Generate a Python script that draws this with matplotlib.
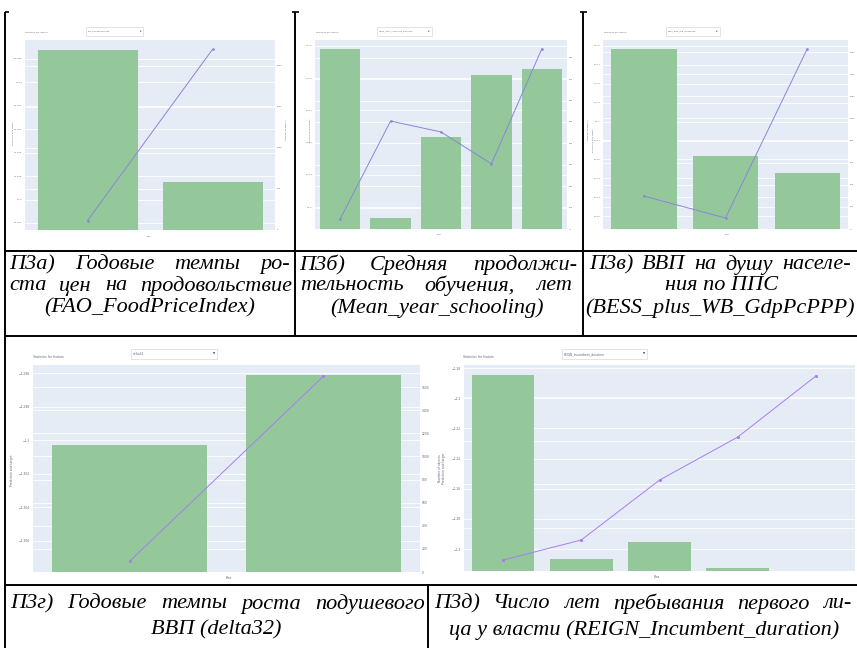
import numpy as np
import matplotlib.pyplot as plt
from matplotlib.lines import Line2D
from matplotlib.patches import Rectangle

W, H = 857, 648

# --- data ---
feat_a = "FAO_FoodPriceIndex"
count_a = [2195, 585]
pred_a = [-1.3018, -1.2872]
lticks_a = [-1.288, -1.29, -1.292, -1.294, -1.296, -1.298, -1.3, -1.302]
rticks_a = [0, 500, 1000, 1500, 2000]

feat_b = "Mean_year_schooling_Barrolee"
count_b = [841, 51, 430, 720, 748]
pred_b = [-1.3037, -1.2733, -1.2767, -1.2866, -1.2509]
lticks_b = [-1.25, -1.26, -1.27, -1.28, -1.29, -1.3]
rticks_b = [0, 100, 200, 300, 400, 500, 600, 700, 800]

feat_c = "BESS_plus_WB_GdpPcPPP"
count_c = [1629, 661, 507]
pred_c = [-1.2394, -1.2510, -1.1616]
lticks_c = [-1.16, -1.17, -1.18, -1.19, -1.2, -1.21, -1.22, -1.23, -1.24, -1.25]
rticks_c = [0, 200, 400, 600, 800, 1000, 1200, 1400, 1600]

feat_d = "delta32"
count_d = [1100, 1706]
pred_d = [-1.3072, -1.2962]
lticks_d = [-1.296, -1.298, -1.3, -1.302, -1.304, -1.306]
rticks_d = [0, 200, 400, 600, 800, 1000, 1200, 1400, 1600]

feat_e = "REIGN_Incumbent_duration"
count_e = [2253, 138, 333, 34, 5]
pred_e = [-1.3073, -1.2940, -1.2543, -1.2258, -1.1853]
lticks_e = [-1.18, -1.2, -1.22, -1.24, -1.26, -1.28, -1.3]
rticks_e = [0, 500, 1000, 1500, 2000]

cap_a = ["П3а) Годовые темпы ро-", "ста цен на продовольствие", "(FAO_FoodPriceIndex)"]
cap_b = ["П3б) Средняя продолжи-", "тельность обучения, лет", "(Mean_year_schooling)"]
cap_c = ["П3в) ВВП на душу населе-", "ния по ППС", "(BESS_plus_WB_GdpPcPPP)"]
cap_d = ["П3г) Годовые темпы роста подушевого", "ВВП (delta32)"]
cap_e = ["П3д) Число лет пребывания первого ли-", "ца у власти (REIGN_Incumbent_duration)"]

LAV = '#E5ECF6'
BAR = '#94C89B'
TXT = '#5d6679'

fig = plt.figure(figsize=(W / 100, H / 100), dpi=100)


def fx(x):
    return x / W


def fy(y):
    return 1 - y / H


def rect(x0, y0, x1, y1):
    return [x0 / W, 1 - y1 / H, (x1 - x0) / W, (y1 - y0) / H]


def T(x, y, s, **kw):
    return fig.text(fx(x), fy(y), s, **kw)


def fmt(v):
    return f"{round(v, 4):g}".replace('-', '\u2212')


def panel(box, ylim_l, ylim_r, counts, preds, lticks, rticks, fs, lc, ms, right_labels=True):
    x = np.arange(len(counts))
    ax = fig.add_axes(rect(*box))
    ax.set_facecolor(LAV)
    ax.set_xlim(-0.5, len(counts) - 0.5)
    ax.set_ylim(*ylim_l)
    ax.set_yticks(lticks, [fmt(v) for v in lticks])
    ax.set_xticks([])
    ax.grid(axis='y', color='white', lw=0.6)
    ax.tick_params(axis='y', length=0, pad=2, labelsize=fs, labelcolor=TXT)
    for s in ax.spines.values():
        s.set_visible(False)

    axb = fig.add_axes(rect(*box), sharex=ax)
    axb.patch.set_alpha(0)
    axb.bar(x, counts, width=0.8, color=BAR)
    axb.set_ylim(*ylim_r)
    axb.yaxis.tick_right()
    axb.set_yticks(rticks, [str(v) for v in rticks])
    axb.grid(axis='y', color='white', lw=0.6)
    axb.set_axisbelow(True)
    axb.tick_params(axis='y', length=0, pad=1.5, labelsize=fs, labelcolor=TXT,
                    labelright=right_labels)
    axb.tick_params(axis='x', length=0, labelbottom=False)
    for s in axb.spines.values():
        s.set_visible(False)

    axl = fig.add_axes(rect(*box), sharex=ax, sharey=ax)
    axl.axis('off')
    axl.plot(x, preds, color=lc, lw=0.7, marker='s', ms=ms)


def header(lx, y, bx0, bx1, by0, by1, feat, fs):
    T(lx, y, "Statistics for feature", fontsize=fs, color=TXT, va='center')
    fig.add_artist(Rectangle((fx(bx0), fy(by1)), (bx1 - bx0) / W, (by1 - by0) / H,
                             transform=fig.transFigure, facecolor='white',
                             edgecolor='#d4d8e0', lw=0.5))
    T(bx0 + 2, (by0 + by1) / 2, feat, fontsize=fs, color=TXT, va='center')
    T(bx1 - 2, (by0 + by1) / 2, '\u25bc', fontsize=fs * 0.9, color='#444', va='center', ha='right')


# top row panels
panel((25, 40, 275, 230), (-1.3026, -1.2864), (0, 2317), count_a, pred_a,
      lticks_a, rticks_a, 1.6, '#8a86d6', 0.8)
header(25, 32, 86, 143, 27, 36, feat_a, 1.6)
panel((315, 40, 567, 229), (-1.30683, -1.24814), (0, 883), count_b, pred_b,
      lticks_b, rticks_b, 1.6, '#8a86d6', 0.8)
header(316, 32, 377, 432, 27, 36, feat_b, 1.6)
panel((603, 40, 848, 229), (-1.25683, -1.15683), (0, 1710), count_c, pred_c,
      lticks_c, rticks_c, 1.6, '#8a86d6', 0.8)
header(604, 32, 666, 720, 27, 36, feat_c, 1.6)

# bottom row panels
panel((33, 365, 420, 572), (-1.30785, -1.29552), (0, 1792), count_d, pred_d,
      lticks_d, rticks_d, 2.2, '#a67ef4', 1.1)
header(33, 357, 131, 217, 349, 359, feat_d, 2.2)
panel((464, 365, 855, 571), (-1.31457, -1.17801), (0, 2368), count_e, pred_e,
      lticks_e, rticks_e, 2.2, '#a67ef4', 1.1, right_labels=False)
header(463, 357, 562, 647, 349, 359, feat_e, 2.2)

# axis titles
for x, y, fs in [(13, 133, 1.6), (310, 130, 1.6), (593, 140, 1.6), (12, 470, 2.2), (444, 468, 2.2)]:
    T(x, y, "Prediction and target", fontsize=fs, color=TXT, rotation=90, ha='center', va='center')
for x, y, fs in [(286, 130, 1.6), (588, 130, 1.6), (440, 468, 2.2)]:
    T(x, y, "Number of objects", fontsize=fs, color=TXT, rotation=90, ha='center', va='center')
for x, y, fs in [(149, 236, 1.6), (439, 235, 1.6), (727, 235, 1.6), (229, 578, 2.2), (657, 577, 2.2)]:
    T(x, y, "Bins", fontsize=fs, color=TXT, ha='center', va='center')


# table borders
def seg(x0, y0, x1, y1, lw=1.4):
    fig.add_artist(Line2D([fx(x0), fx(x1)], [fy(y0), fy(y1)], transform=fig.transFigure,
                          color='black', lw=lw, solid_capstyle='butt'))


seg(5, 12, 5, 648)
seg(295, 12, 295, 336)
seg(583, 12, 583, 336)
seg(5, 251, 857, 251)
seg(5, 336, 857, 336)
seg(5, 585, 857, 585)
seg(428, 585, 428, 648)
for xc in (5, 295, 583):
    seg(xc - 3 if xc > 5 else xc, 12, xc + 4, 12, lw=1.2)

# captions
CAP = dict(family='Liberation Serif', style='italic', fontsize=16, color='black', va='center')
renderer = fig.canvas.get_renderer()


def justify(x0, x1, y, line):
    words = line.split(' ')
    texts = [T(0, y, w, **CAP) for w in words]
    widths = [t.get_window_extent(renderer).width for t in texts]
    gap = (x1 - x0 - sum(widths)) / (len(words) - 1)
    x = x0
    for t, w in zip(texts, widths):
        t.set_position((fx(x), fy(y)))
        x += w + gap


def centered(xc, y, line):
    T(xc, y, line, ha='center', **CAP)


justify(9, 290, 265, cap_a[0])
justify(9, 292, 286, cap_a[1])
centered(150, 308, cap_a[2])
justify(299, 577, 265, cap_b[0])
justify(300, 572, 286, cap_b[1])
centered(437, 308, cap_b[2])
justify(589, 851, 265, cap_c[0])
centered(722, 286, cap_c[1])
centered(720, 308, cap_c[2])
justify(10, 425, 604, cap_d[0])
centered(216, 630, cap_d[1])
justify(434, 851, 604, cap_e[0])
centered(644, 630, cap_e[1])

fig.savefig('out.png', dpi=100)
